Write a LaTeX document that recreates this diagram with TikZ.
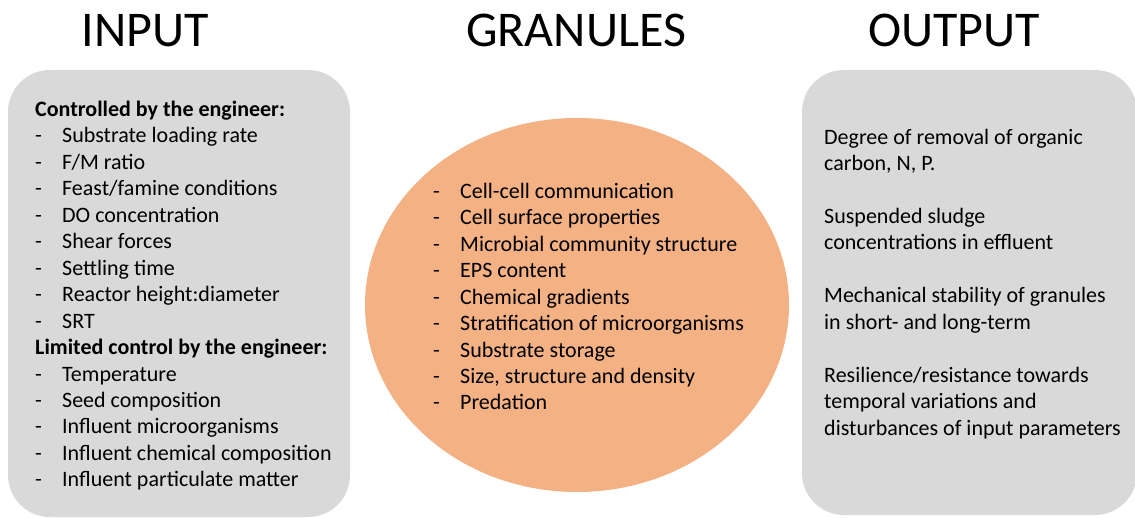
\documentclass[tikz,border=0pt]{standalone}
\usepackage{fontspec}
\usetikzlibrary{shapes.geometric}
\setmainfont{Carlito}
\definecolor{boxgray}{HTML}{D9D9D9}
\definecolor{granorange}{HTML}{F4B183}
\newcommand\dashitem[1]{\makebox[27pt][l]{-}#1}
\begin{document}
\begin{tikzpicture}[x=1pt,y=-1pt,
  panel/.style={fill=boxgray,draw=none,rounded corners=42pt},
  title/.style={font=\fontsize{50}{60}\selectfont,anchor=base,inner sep=0pt},
  body/.style={font=\fontsize{22}{26.45}\selectfont,anchor=base west,align=left,inner sep=0pt}]
\useasboundingbox (0,0) rectangle (1135,518);
\fill[white] (0,0) rectangle (1135,518);
% panels
\path[panel] (8,70) rectangle (350,517);
\path[panel] (802,70) rectangle (1137,515);
\node[fill=granorange,draw=none,ellipse,minimum width=424pt,minimum height=374pt,inner sep=0pt] (gran) at (577,305) {};
% titles
\node[title] (tin) at (145.5,47) {INPUT};
\node[title] (tgr) at (576,47) {GRANULES};
\node[title] (tout) at (954,47) {OUTPUT};
% input text (anchor = baseline of last line)
\node[body] (intext) at (35,486.8) {\textbf{Controlled by the engineer:}\\
\dashitem{Substrate loading rate}\\
\dashitem{F/M ratio}\\
\dashitem{Feast/famine conditions}\\
\dashitem{DO concentration}\\
\dashitem{Shear forces}\\
\dashitem{Settling time}\\
\dashitem{Reactor height:diameter}\\
\dashitem{SRT}\\
\textbf{Limited control by the engineer:}\\
\dashitem{Temperature}\\
\dashitem{Seed composition}\\
\dashitem{Influent microorganisms}\\
\dashitem{Influent chemical composition}\\
\dashitem{Influent particulate matter}};
% granules text
\node[body] (grtext) at (433,409.9) {\dashitem{Cell-cell communication}\\
\dashitem{Cell surface properties}\\
\dashitem{Microbial community structure}\\
\dashitem{EPS content}\\
\dashitem{Chemical gradients}\\
\dashitem{Stratification of microorganisms}\\
\dashitem{Substrate storage}\\
\dashitem{Size, structure and density}\\
\dashitem{Predation}};
% output text
\node[body] (outtext) at (824,435) {Degree of removal of organic\\
carbon, N, P.\\[26.45pt]
Suspended sludge\\
concentrations in effluent\\[26.45pt]
Mechanical stability of granules\\
in short- and long-term\\[26.45pt]
Resilience/resistance towards\\
temporal variations and\\
disturbances of input parameters};
\end{tikzpicture}
\end{document}
